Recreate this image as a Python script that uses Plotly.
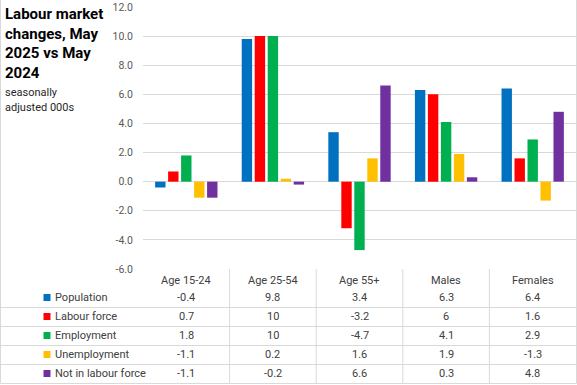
import plotly.graph_objects as go

categories = ["Age 15-24", "Age 25-54", "Age 55+", "Males", "Females"]
series_names = ["Population", "Labour force", "Employment", "Unemployment", "Not in labour force"]
population = [-0.4, 9.8, 3.4, 6.3, 6.4]
labour_force = [0.7, 10, -3.2, 6, 1.6]
employment = [1.8, 10, -4.7, 4.1, 2.9]
unemployment = [-1.1, 0.2, 1.6, 1.9, -1.3]
not_in_lf = [-1.1, -0.2, 6.6, 0.3, 4.8]
series_values = [population, labour_force, employment, unemployment, not_in_lf]
colors = ["#0070C0", "#FF0000", "#00B050", "#FFC000", "#7030A0"]
y_ticks = [-6, -4, -2, 0, 2, 4, 6, 8, 10, 12]
y_tick_labels = ["-6.0", "-4.0", "-2.0", "0.0", "2.0", "4.0", "6.0", "8.0", "10.0", "12.0"]

W, H = 577, 385
L, R, T, B = 143, 576, 7, 269  # plot area in pixels
FONT = "Roboto"
GRID = "#d9d9d9"
TXT = "#404040"


def px(x):
    return (x - L) / (R - L)


def py(y):
    return (B - y) / (B - T)


fig = go.Figure()
for name, vals, col in zip(series_names, series_values, colors):
    fig.add_trace(go.Bar(x=categories, y=vals, name=name, marker=dict(color=col, line=dict(width=0)),
                         showlegend=False, hoverinfo="x+y+name"))

shapes = []
annotations = []

# outer border (left, right, bottom)
for x0, y0, x1, y1 in [(0.5, 0, 0.5, 383.5), (576.5, 0, 576.5, 383.5), (0.5, 383.5, 576.5, 383.5)]:
    shapes.append(dict(type="line", xref="paper", yref="paper", x0=px(x0), x1=px(x1), y0=py(y0), y1=py(y1),
                       line=dict(color=GRID, width=1), layer="below"))
# vertical lines between categories in table
for i in range(len(categories) - 1):
    shapes.append(dict(type="line", xref="x", yref="paper", x0=i + 0.5, x1=i + 0.5, y0=py(269), y1=py(383.5),
                       line=dict(color=GRID, width=1)))
# horizontal row lines
row_lines = [307, 326, 345, 364]
for yl in row_lines:
    shapes.append(dict(type="line", xref="paper", yref="paper", x0=px(0.5), x1=px(576.5), y0=py(yl + 0.5), y1=py(yl + 0.5),
                       line=dict(color=GRID, width=1)))

# header row
for i, c in enumerate(categories):
    annotations.append(dict(xref="x", yref="paper", x=i, y=py(280.5), text=c, showarrow=False,
                            font=dict(family=FONT, size=11, color=TXT), xanchor="center", yanchor="middle"))

row_centers = [297.5, 316.5, 335.5, 354.5, 373.5]
for r, (name, vals, col) in enumerate(zip(series_names, series_values, colors)):
    yc = row_centers[r]
    shapes.append(dict(type="rect", xref="paper", yref="paper", x0=px(43.5), x1=px(50.5), y0=py(yc + 3.5), y1=py(yc - 3.5),
                       fillcolor=col, line=dict(width=0)))
    annotations.append(dict(xref="paper", yref="paper", x=px(52.5), y=py(yc), text=name, showarrow=False,
                            font=dict(family=FONT, size=11, color=TXT), xanchor="left", yanchor="middle"))
    for i, v in enumerate(vals):
        annotations.append(dict(xref="x", yref="paper", x=i, y=py(yc), text=f"{v:g}", showarrow=False,
                                font=dict(family=FONT, size=11, color=TXT), xanchor="center", yanchor="middle"))

# title
title_lines = ["Labour market", "changes, May", "2025 vs May", "2024"]
for k, t in enumerate(title_lines):
    annotations.append(dict(xref="paper", yref="paper", x=px(3), y=py(14 + 19.7 * k), text=f"<b>{t}</b>",
                            showarrow=False, font=dict(family=FONT, size=15, color="#000000"),
                            xanchor="left", yanchor="middle"))
sub_lines = ["seasonally", "adjusted 000s"]
for k, t in enumerate(sub_lines):
    annotations.append(dict(xref="paper", yref="paper", x=px(3), y=py(92 + 15.5 * k), text=t,
                            showarrow=False, font=dict(family=FONT, size=11, color="#262626"),
                            xanchor="left", yanchor="middle"))

fig.update_layout(
    width=W, height=H, autosize=False,
    margin=dict(l=L, r=W - R, t=T, b=H - B, pad=0),
    paper_bgcolor="white", plot_bgcolor="white",
    barmode="group", bargap=0.25, bargroupgap=0.2,
    shapes=shapes, annotations=annotations,
    xaxis=dict(range=[-0.5, 4.5], showticklabels=False, showgrid=False, zeroline=False, showline=False, ticks=""),
    yaxis=dict(range=[-6, 12], tickvals=y_ticks, ticktext=y_tick_labels, showgrid=True, gridcolor=GRID, gridwidth=1,
               zeroline=True, zerolinecolor=GRID, zerolinewidth=1, showline=False, ticks="",
               ticklabelstandoff=9, tickfont=dict(family=FONT, size=10.5, color="#595959")),
    font=dict(family=FONT),
)

fig.write_html("out.html", config={"displayModeBar": False},
               post_script="document.body.style.margin='0';document.body.style.overflow='hidden';")
